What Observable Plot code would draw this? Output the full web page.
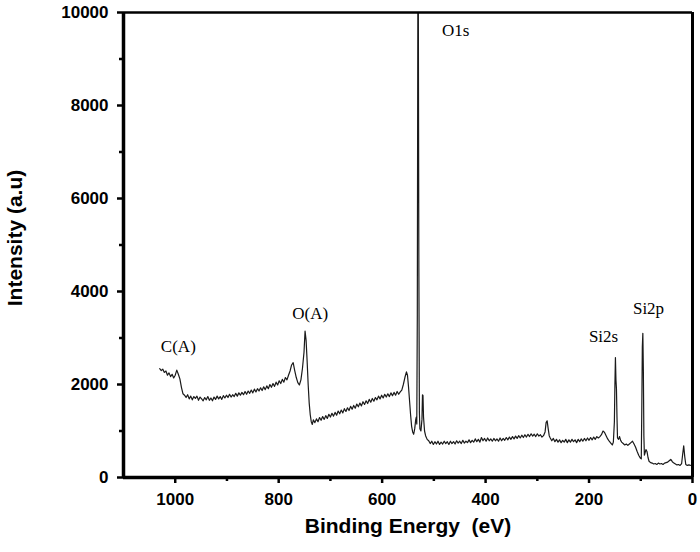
<!DOCTYPE html>
<html>
<head>
<meta charset="utf-8">
<script src="https://cdn.jsdelivr.net/npm/d3@7"></script>
<script src="https://cdn.jsdelivr.net/npm/@observablehq/plot@0.6"></script>
<style>
  html, body { margin: 0; padding: 0; background: #fff; }
  #chart { width: 700px; height: 552px; }
</style>
</head>
<body>
<div id="chart"></div>
<script>
// Binding energy (eV) and intensity (a.u.)
const energy = [
1030,1027,1024,1021,1018,1015,1012,1009,1006,1003,1000,997,994,991,988,985,982,979,976,973,970,967,964,961,958,955,952,949,946,943,940,937,934,931,928,925,922,919,916,913,910,907,904,901,898,895,892,889,886,883,880,877,874,871,868,865,862,859,856,853,850,847,844,841,838,835,832,829,826,823,820,817,814,811,808,805,802,799,796,793,790,787,784,781,778,775,772,769,766,763,760,757,754,751,749,747,745,743,741,739,737,735,733,730,727,724,721,718,715,712,709,706,703,700,697,694,691,688,685,682,679,676,673,670,667,664,661,658,655,652,649,646,643,640,637,634,631,628,625,622,619,616,613,610,607,604,601,598,595,592,589,586,583,580,577,574,571,568,565,562,559,556,553,551,549,547,545,543,541,539,537,535,534,533,532,531,530,529,528,527,525,523,522,521,520,518,516,513,510,507,504,501,498,495,492,489,486,483,480,477,474,471,468,465,462,459,456,453,450,447,444,441,438,435,432,429,426,423,420,417,414,411,408,405,402,399,396,393,390,387,384,381,378,375,372,369,366,363,360,357,354,351,348,345,342,339,336,333,330,327,324,321,318,315,312,309,306,303,300,297,294,291,288,285,283,281,279,277,275,272,269,266,263,260,257,254,251,248,245,242,239,236,233,230,227,224,221,218,215,212,209,206,203,200,197,194,191,188,185,182,179,176,173,170,167,164,161,158,155,153,151,150,149,148,147,146,145,143,141,139,137,134,131,128,125,122,119,116,113,110,107,104,101,99,98,97,96,95,94,93,92,90,88,86,84,81,78,75,72,69,66,63,60,57,54,51,48,45,42,39,36,33,30,27,24,21,19,17,15,13,10,7,4
];
const intensity = [
2340,2300,2330,2260,2290,2200,2250,2170,2220,2140,2200,2310,2220,2120,1940,1800,1770,1720,1780,1690,1750,1670,1740,1700,1750,1660,1730,1690,1650,1720,1670,1740,1660,1710,1650,1730,1680,1750,1690,1740,1680,1760,1710,1770,1720,1790,1730,1780,1740,1810,1750,1820,1770,1830,1780,1850,1790,1860,1810,1880,1820,1900,1840,1910,1860,1930,1870,1950,1890,1970,1910,2000,1940,2020,1960,2050,1990,2080,2020,2110,2050,2150,2100,2200,2290,2420,2470,2300,2150,2040,1990,2100,2350,2700,3150,2950,2500,2000,1600,1350,1200,1140,1240,1180,1260,1200,1290,1230,1310,1250,1330,1270,1360,1300,1380,1320,1400,1340,1430,1370,1450,1390,1480,1420,1500,1440,1530,1470,1550,1490,1580,1520,1600,1540,1630,1570,1650,1590,1680,1620,1700,1640,1720,1670,1750,1690,1770,1710,1790,1730,1800,1740,1820,1760,1830,1770,1850,1790,1840,1880,2000,2150,2270,2200,1950,1650,1350,1100,980,930,1050,1250,1300,1150,3500,9990,9990,4500,1400,1050,1000,1250,1780,1760,1300,1000,900,820,790,730,780,710,770,720,780,710,760,720,780,730,770,710,780,730,770,720,790,740,780,730,800,740,780,750,810,750,800,760,830,770,820,760,860,790,840,780,850,790,830,780,840,790,830,780,850,790,840,800,860,810,870,820,880,830,890,840,900,850,910,860,920,870,930,880,940,890,930,880,940,890,920,870,900,980,1180,1220,1050,900,850,790,840,770,820,760,810,750,800,760,820,750,810,760,820,770,810,750,820,770,830,780,840,790,850,800,860,810,870,820,880,850,880,920,1000,970,900,830,780,740,700,760,1200,2000,2580,2100,1900,1300,850,820,880,800,760,730,700,720,690,720,750,780,720,650,560,480,420,400,1500,2800,3100,2300,900,480,520,600,560,430,350,320,310,290,300,280,310,290,300,280,310,320,330,360,390,340,310,290,270,280,260,300,500,680,450,280,260,270,260
];
const spectrum = energy.map((e, i) => ({energy: e, intensity: intensity[i]}));

const xTicks = [1000, 800, 600, 400, 200, 0];
const xMinorTicks = [900, 700, 500, 300, 100];
const yTicks = [0, 2000, 4000, 6000, 8000, 10000];
const yMinorTicks = [1000, 3000, 5000, 7000, 9000];

const peakNames = ["C(A)", "O(A)", "O1s", "Si2s", "Si2p"];
const peakLabelEnergy = [994, 739, 458, 172, 85];
const peakLabelIntensity = [2820, 3530, 9610, 3030, 3630];
const peakLabels = peakNames.map((n, i) => ({name: n, energy: peakLabelEnergy[i], intensity: peakLabelIntensity[i]}));

const sans = "'Liberation Sans', Arial, Helvetica, sans-serif";
const serif = "'Liberation Serif', 'Times New Roman', serif";

const chart = Plot.plot({
  width: 700,
  height: 552,
  marginLeft: 123,
  marginRight: 8,
  marginTop: 12,
  marginBottom: 75,
  style: {fontFamily: sans, background: "#fff", overflow: "visible"},
  x: {domain: [1100, 0]},
  y: {domain: [0, 10000]},
  marks: [
    Plot.line(spectrum, {x: "energy", y: "intensity", stroke: "#1a1a1a", strokeWidth: 1.2, clip: true}),
    Plot.ruleY([10000], {stroke: "#000", strokeWidth: 2.5}),
    Plot.ruleX([0], {stroke: "#000", strokeWidth: 3}),
    Plot.ruleX([1100], {stroke: "#000", strokeWidth: 3.5}),
    Plot.ruleY([0], {stroke: "#000", strokeWidth: 3.5}),
    Plot.axisX({ticks: xMinorTicks, tickSize: 4, strokeWidth: 2.5, stroke: "#000", tickFormat: () => "", label: null}),
    Plot.axisX({ticks: xTicks, tickSize: 6, strokeWidth: 2.5, stroke: "#000", tickPadding: 9, tickFormat: d => String(d),
      fontSize: 17, fontWeight: "bold", fill: "#000", label: null}),
    Plot.axisY({ticks: yMinorTicks, tickSize: 4, strokeWidth: 2.5, stroke: "#000", tickFormat: () => "", label: null}),
    Plot.axisY({ticks: yTicks, tickSize: 6, strokeWidth: 2.5, stroke: "#000", tickPadding: 9, tickFormat: d => String(d),
      fontSize: 17, fontWeight: "bold", fill: "#000", label: null}),
    Plot.text(peakLabels, {x: "energy", y: "intensity", text: "name", fontFamily: serif, fontSize: 17, fill: "#000"}),
    Plot.text(["Binding Energy  (eV)"], {frameAnchor: "bottom", dy: 55, fontSize: 21, fontWeight: "bold", fill: "#000"}),
    Plot.text(["Intensity (a.u)"], {frameAnchor: "left", textAnchor: "middle", dx: -108, dy: -7, rotate: -90, fontSize: 21, fontWeight: "bold", fill: "#000"})
  ]
});
document.getElementById("chart").appendChild(chart);
</script>
</body>
</html>
